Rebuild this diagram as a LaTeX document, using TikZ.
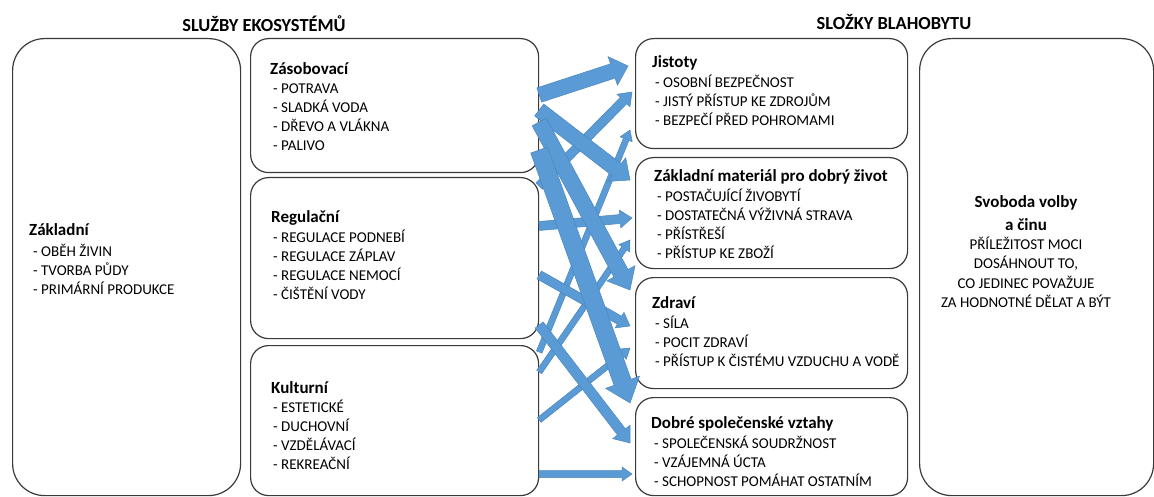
\documentclass[tikz,border=0pt]{standalone}
\usepackage{fontspec}
\setmainfont{Carlito}
\usetikzlibrary{calc}
\definecolor{arrfill}{HTML}{5B9BD5}
\definecolor{arrline}{HTML}{4A86BE}
\definecolor{boxline}{HTML}{3A3A3A}
\tikzset{
  box/.style={draw=boxline, line width=1.2pt, rounded corners=18pt, inner sep=0pt},
  bigbox/.style={box, rounded corners=32pt},
  ttl/.style={anchor=base west, inner sep=0pt, font=\fontsize{17}{20}\selectfont\bfseries},
  itemtxt/.style={anchor=base west, inner sep=0pt, font=\fontsize{15}{18}\selectfont},
  ctrttl/.style={anchor=base, inner sep=0pt, font=\fontsize{17}{20}\selectfont\bfseries},
  ctritem/.style={anchor=base, inner sep=0pt, font=\fontsize{15}{18}\selectfont},
  header/.style={anchor=base, inner sep=0pt, font=\fontsize{18.4}{21}\selectfont\bfseries},
  blockarrow/.style={fill=arrfill, draw=arrline, line width=0.5pt, line join=miter},
}
% #1 start, #2 tip, #3 half shaft, #4 half head, #5 head length
\newcommand\blockarr[5]{%
  \path[blockarrow] let \p1=(#1), \p2=(#2), \n1={atan2(\y2-\y1,\x2-\x1)} in
   ($(\p1)+(\n1+90:#3pt)$) --
   ($(\p2)+(\n1+180:#5pt)+(\n1+90:#3pt)$) --
   ($(\p2)+(\n1+180:#5pt)+(\n1+90:#4pt)$) --
   (\p2) --
   ($(\p2)+(\n1+180:#5pt)+(\n1-90:#4pt)$) --
   ($(\p2)+(\n1+180:#5pt)+(\n1-90:#3pt)$) --
   ($(\p1)+(\n1-90:#3pt)$) -- cycle;}
% #1 name prefix, #2 x, #3 first baseline, #4 list
\newcommand\itemlist[4]{%
  \foreach \t [count=\i from 1] in {#4}
    \node[itemtxt] (#1\i) at (#2, {#3+19*(\i-1)}) {\t};}
\begin{document}
\begin{tikzpicture}[x=1pt, y=-1pt]
\useasboundingbox (0,0) rectangle (1154,497);
\clip (0,0) rectangle (1154,497);

% headers
\node[header] (h1) at (264,31.5) {SLUŽBY EKOSYSTÉMŮ};
\node[header] (h2) at (894,30) {SLOŽKY BLAHOBYTU};

% boxes
\node[bigbox, anchor=north west, minimum width=228pt, minimum height=457pt] (bas) at (12,38) {};
\node[box, anchor=north west, minimum width=288pt, minimum height=134pt] (zas) at (250,38) {};
\node[box, anchor=north west, minimum width=288pt, minimum height=161pt] (reg) at (250,177) {};
\node[box, anchor=north west, minimum width=288pt, minimum height=150pt] (kul) at (250,345) {};
\node[box, anchor=north west, minimum width=272pt, minimum height=110pt] (jis) at (635,38) {};
\node[box, anchor=north west, minimum width=272pt, minimum height=111pt] (mat) at (635,157) {};
\node[box, anchor=north west, minimum width=272pt, minimum height=111pt] (zdr) at (635,277) {};
\node[box, anchor=north west, minimum width=272pt, minimum height=98pt] (vzt) at (635,397) {};
\node[bigbox, anchor=north west, minimum width=234pt, minimum height=457pt] (svo) at (919,38) {};

% texts
\node[ttl] (basT) at (29,236) {Základní};
\itemlist{basI}{33}{256}{- OBĚH ŽIVIN, - TVORBA PŮDY, - PRIMÁRNÍ PRODUKCE}
\node[ttl] (zasT) at (270,75) {Zásobovací};
\itemlist{zasI}{273}{94}{- POTRAVA, - SLADKÁ VODA, - DŘEVO A VLÁKNA, - PALIVO}
\node[ttl] (regT) at (271,223) {Regulační};
\itemlist{regI}{273}{242.5}{- REGULACE PODNEBÍ, - REGULACE ZÁPLAV, - REGULACE NEMOCÍ, - ČIŠTĚNÍ VODY}
\node[ttl] (kulT) at (271,393) {Kulturní};
\itemlist{kulI}{273}{412.5}{- ESTETICKÉ, - DUCHOVNÍ, - VZDĚLÁVACÍ, - REKREAČNÍ}
\node[ttl] (jisT) at (652,68) {Jistoty};
\itemlist{jisI}{655}{88}{- OSOBNÍ BEZPEČNOST, - JISTÝ PŘÍSTUP KE ZDROJŮM, - BEZPEČÍ PŘED POHROMAMI}
\node[ttl] (matT) at (654,182) {Základní materiál pro dobrý život};
\itemlist{matI}{657}{201.5}{- POSTAČUJÍCÍ ŽIVOBYTÍ, - DOSTATEČNÁ VÝŽIVNÁ STRAVA, - PŘÍSTŘEŠÍ, - PŘÍSTUP KE ZBOŽÍ}
\node[ttl] (zdrT) at (652,308) {Zdraví};
\itemlist{zdrI}{655}{328}{- SÍLA, - POCIT ZDRAVÍ, - PŘÍSTUP K ČISTÉMU VZDUCHU A VODĚ}
\node[ttl] (vztT) at (651,428) {Dobré společenské vztahy};
\itemlist{vztI}{654}{448}{- SPOLEČENSKÁ SOUDRŽNOST, - VZÁJEMNÁ ÚCTA, - SCHOPNOST POMÁHAT OSTATNÍM}
\node[ctrttl] (svoT1) at (1026,208) {Svoboda volby};
\node[ctrttl] (svoT2) at (1026,230) {a činu};
\node[ctritem] (svoI1) at (1026,250) {PŘÍLEŽITOST MOCI};
\node[ctritem] (svoI2) at (1026,269) {DOSÁHNOUT TO,};
\node[ctritem] (svoI3) at (1026,288) {CO JEDINEC POVAŽUJE};
\node[ctritem] (svoI4) at (1026,307) {ZA HODNOTNÉ DĚLAT A BÝT};

% arrow end points
\coordinate (zjS) at (zas.east |- 0,95);   \coordinate (zjE) at ([xshift=-7pt]jis.west |- 0,66);
\coordinate (zmS) at (zas.east |- 0,110);  \coordinate (zmE) at ([xshift=-5pt]mat.west |- 0,180);
\coordinate (zzS) at (zas.east |- 0,122);  \coordinate (zzE) at ([xshift=-5pt]zdr.west |- 0,290);
\coordinate (zvS) at (zas.east |- 0,150);  \coordinate (zvE) at ([xshift=-5pt]vzt.west |- 0,403);
\coordinate (rjS) at (reg.east |- 0,186);  \coordinate (rjE) at ([xshift=-3pt]jis.west |- 0,92);
\coordinate (rmS) at (reg.east |- 0,226);  \coordinate (rmE) at ([xshift=-3pt]mat.west |- 0,218);
\coordinate (rzS) at (reg.east |- 0,275);  \coordinate (rzE) at ([xshift=-5pt]zdr.west |- 0,326);
\coordinate (rvS) at (reg.east |- 0,325);  \coordinate (rvE) at ([xshift=-5pt]vzt.west |- 0,443);
\coordinate (kjS) at (kul.east |- 0,352);  \coordinate (kjE) at ([xshift=-5pt]jis.west |- 0,130);
\coordinate (kmS) at (kul.east |- 0,372);  \coordinate (kmE) at ([xshift=-5pt]mat.west |- 0,240);
\coordinate (kzS) at (kul.east |- 0,420);  \coordinate (kzE) at ([xshift=-5pt]zdr.west |- 0,348);
\coordinate (kvS) at (kul.east |- 0,474);  \coordinate (kvE) at ([xshift=-3pt]vzt.west |- 0,474);

% arrows: cultural (thin)
\blockarr{kjS}{kjE}{3}{6.5}{10}
\blockarr{kmS}{kmE}{3}{6.5}{10}
\blockarr{kzS}{kzE}{3}{6.5}{10}
\blockarr{kvS}{kvE}{3.5}{7}{10}
% regulating (medium)
\blockarr{rjS}{rjE}{4.5}{9}{12}
\blockarr{rmS}{rmE}{4.5}{9}{12}
\blockarr{rzS}{rzE}{4.5}{9}{12}
\blockarr{rvS}{rvE}{5}{11}{14}
% provisioning (thick)
\blockarr{zjS}{zjE}{7.5}{15}{16}
\blockarr{zmS}{zmE}{7.5}{15}{17}
\blockarr{zzS}{zzE}{8}{16}{19}
\blockarr{zvS}{zvE}{9}{18}{22}
\end{tikzpicture}
\end{document}
